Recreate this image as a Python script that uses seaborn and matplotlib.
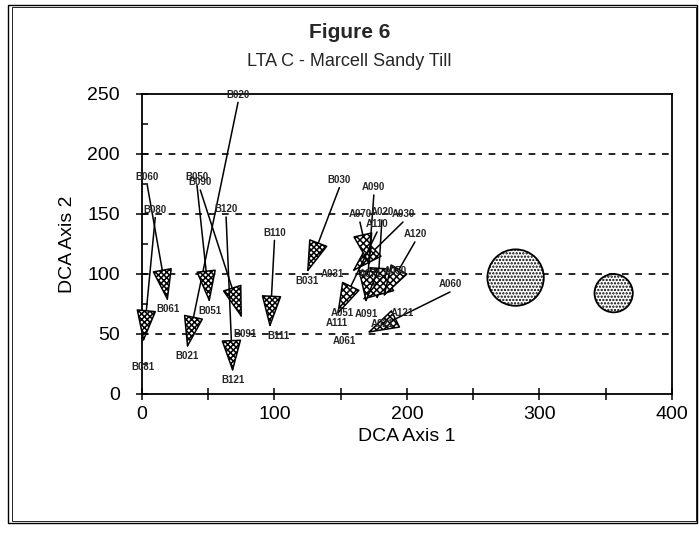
import matplotlib
matplotlib.use("Agg")
import matplotlib.pyplot as plt
import seaborn as sns
import pandas as pd

# successional vectors: "..0" = first survey, "..1" = resurvey
b_start_labels = ["B020", "B030", "B050", "B060", "B080", "B090", "B110", "B120"]
b_start_x = [72.5, 149, 41.5, 4, 10, 44, 100, 63.5]
b_start_y = [243, 172, 174, 174, 147, 170, 128, 147.5]
b_end_labels = ["B021", "B031", "B051", "B061", "B081", "B091", "B111", "B121"]
b_end_x = [34, 124.5, 51, 19.5, 1, 75.5, 96.5, 68.5]
b_end_y = [38, 101, 76, 77, 43, 63, 55, 18]

a_start_labels = ["A020", "A030", "A050", "A060", "A070", "A090", "A110", "A120"]
a_start_x = [181.1, 197, 191, 232.5, 164.5, 175, 177.4, 206]
a_start_y = [145, 143.3, 95.8, 85, 143.3, 165.8, 135, 126.7]
a_end_labels = ["A021", "A031", "A051", "A061", "A071", "A091", "A111", "A121"]
a_end_x = [177.4, 158.5, 166, 169.8, 172, 169, 147.2, 182]
a_end_y = [78.3, 101.7, 78.3, 50.8, 106.7, 75.8, 65.8, 80.8]

circle_x = [282, 356]
circle_y = [97, 84]
circle_size = [1650, 760]

sns.set_theme(style="ticks")
plt.rcParams['font.family'] = ['Liberation Sans', 'DejaVu Sans']
plt.rcParams['hatch.linewidth'] = 1.1

fig = plt.figure(figsize=(6.99, 5.33), dpi=100)
ax = fig.add_axes([0.2031, 0.2608, 0.7582, 0.5629])

circles = pd.DataFrame({"x": circle_x, "y": circle_y, "s": circle_size})
sns.scatterplot(data=circles, x="x", y="y", size="s", sizes=(min(circle_size), max(circle_size)),
                legend=False, color="white", edgecolor="black", linewidth=1.3, ax=ax, zorder=3)
ax.collections[-1].set_hatch(".....")

# label nudges (points) for labels that sit beside / well below their point
nudge = {"A031": (-14, 2), "A061": (-16, -2), "B081": (0, -14), "B091": (2, -8),
         "B111": (6, -2), "A051": (-14, -6), "A121": (14, -8), "A091": (0, -4),
         "A021": (4, -14)}


def draw_vectors(sx, sy, ex, ey, slabels, elabels, hatch):
    for x0, y0, x1, y1, l0, l1 in zip(sx, sy, ex, ey, slabels, elabels):
        ax.annotate("", xy=(x1, y1), xytext=(x0, y0),
                    arrowprops=dict(arrowstyle="-|>,head_length=2.1,head_width=0.65",
                                    mutation_scale=10, lw=1.1, edgecolor="black",
                                    facecolor="white", hatch=hatch, shrinkA=0, shrinkB=0),
                    zorder=4)
        ax.annotate(l0, (x0, y0), xytext=(0, 2), textcoords="offset points",
                    ha="center", va="bottom", fontsize=7, fontweight="bold", zorder=5)
        dx, dy = nudge.get(l1, (0, -2))
        ax.annotate(l1, (x1, y1), xytext=(dx, dy), textcoords="offset points",
                    ha="center", va="top", fontsize=7, fontweight="bold", zorder=5)


draw_vectors(b_start_x, b_start_y, b_end_x, b_end_y, b_start_labels, b_end_labels, "xxxxxx")
draw_vectors(a_start_x, a_start_y, a_end_x, a_end_y, a_start_labels, a_end_labels, "xxxxx")

ax.set_xlim(0, 400)
ax.set_ylim(0, 250)
ax.set_xticks(range(0, 401, 100))
ax.set_xticks(range(0, 401, 50), minor=True)
ax.set_yticks(range(0, 251, 50))
ax.set_yticks(range(0, 251, 25), minor=True)
ax.tick_params(axis="both", which="major", direction="inout", length=8, width=1.1,
               color="black", labelsize=14, labelcolor="black")
ax.tick_params(axis="x", which="minor", direction="inout", length=8, width=1.1, color="black")
ax.tick_params(axis="y", which="minor", direction="in", length=4, width=1.1, color="black")
ax.tick_params(axis="y", which="major", pad=12)
ax.tick_params(axis="x", which="major", pad=5)

for y in [50, 100, 150, 200]:
    ax.axhline(y, color="black", lw=1.2, ls=(0, (4, 4)), zorder=1)
for sp in ax.spines.values():
    sp.set_color("black")
    sp.set_linewidth(1.3)

ax.set_xlabel("DCA Axis 1", fontsize=14, color="black", labelpad=3)
ax.set_ylabel("DCA Axis 2", fontsize=14, color="black", labelpad=8)
ax.set_facecolor("white")

fig.text(0.5, 1 - 32 / 533, "Figure 6", ha="center", va="center", fontsize=15,
         fontweight="bold")
fig.text(0.5, 1 - 61 / 533, "LTA C - Marcell Sandy Till", ha="center", va="center", fontsize=13)

# double frame around the figure
fig.add_artist(plt.Rectangle((0.012, 0.018), 0.985, 0.972, transform=fig.transFigure,
                             fill=False, edgecolor="black", lw=1.0))
fig.add_artist(plt.Rectangle((0.017, 0.022), 0.978, 0.964, transform=fig.transFigure,
                             fill=False, edgecolor="black", lw=0.6))

fig.savefig("out.png", dpi=100, facecolor="white")
